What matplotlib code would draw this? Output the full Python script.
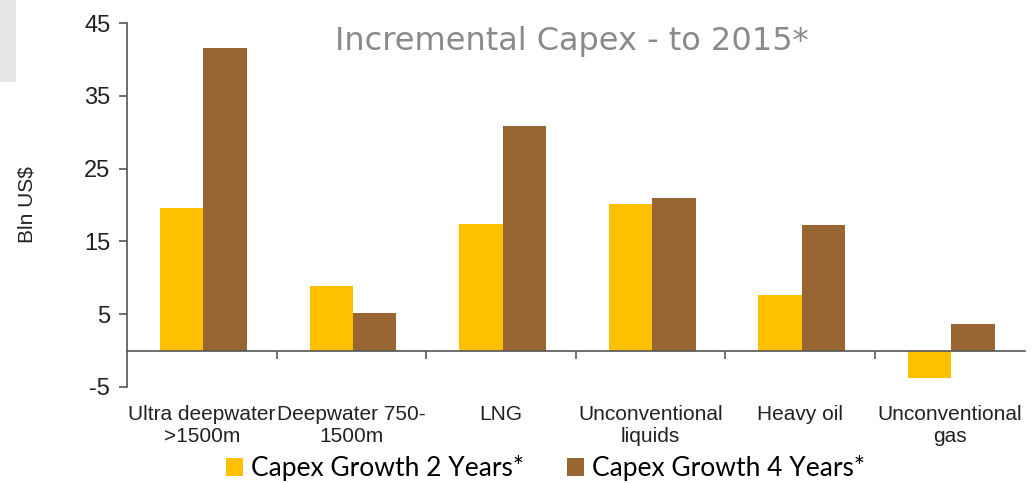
import matplotlib.pyplot as plt
from matplotlib.patches import Rectangle

categories = ['Ultra deepwater\n>1500m', 'Deepwater 750-\n1500m', 'LNG',
              'Unconventional\nliquids', 'Heavy oil', 'Unconventional\ngas']
growth_2y = [19.6, 8.9, 17.4, 20.2, 7.7, -3.8]
growth_4y = [41.6, 5.2, 30.8, 21.0, 17.2, 3.7]
y_ticks = [-5, 5, 15, 25, 35, 45]

fig = plt.figure(figsize=(10.35, 4.83), dpi=100)
ax = fig.add_axes([0.1227, 0.199, 0.8673, 0.753])

# light grey tab in the top-left corner
fig.patches.append(Rectangle((0, 0.83), 0.015, 0.17, transform=fig.transFigure,
                             facecolor='#e6e6e6', edgecolor='none'))

x = list(range(len(categories)))
w = 0.29
b1 = ax.bar([i - w / 2 + 0.01 for i in x], growth_2y, w, color='#FFC000', label='Capex Growth 2 Years*')
b2 = ax.bar([i + w / 2 + 0.01 for i in x], growth_4y, w, color='#996633', label='Capex Growth 4 Years*')

ax.set_xlim(-0.5, len(categories) - 0.5)
ax.set_ylim(-5, 45)
ax.set_yticks(y_ticks)
ax.set_yticklabels([str(t) for t in y_ticks], fontsize=17, family='Liberation Sans', color='#222222')

# category axis sits on the zero line, boundary ticks hang below it
ax.spines['bottom'].set_position(('data', 0))
ax.spines['top'].set_visible(False)
ax.spines['right'].set_visible(False)
for s in ['left', 'bottom']:
    ax.spines[s].set_color('#555555')
    ax.spines[s].set_linewidth(1.2)
ax.set_xticks([i + 0.5 for i in x[:-1]])
ax.set_xticklabels([])
ax.tick_params(axis='x', which='major', length=6, width=1.2, color='#555555')
ax.tick_params(axis='y', length=6, width=1.2, color='#555555', pad=6)
ax.set_xticks(x, minor=True)
ax.set_xticklabels(categories, minor=True, fontsize=15, family='Liberation Sans', color='#222222',
                   linespacing=1.2)
ax.tick_params(axis='x', which='minor', length=0, pad=39)

ax.set_ylabel('Bln US$', fontsize=15, family='Liberation Sans', color='#222222', labelpad=34)

ax.text(0.495, 0.95, 'Incremental Capex - to 2015*', transform=ax.transAxes, ha='center', va='center',
        fontsize=23, color='#8a8a8a', family='DejaVu Sans')

fig.legend(handles=[b1, b2], loc='center', bbox_to_anchor=(0.527, 0.031), ncol=2, frameon=False,
           prop={'family': 'Lato', 'size': 19}, handlelength=0.65, handleheight=0.65, handletextpad=0.3,
           columnspacing=1.6, borderaxespad=0, borderpad=0)

fig.savefig('out.png', dpi=100)
